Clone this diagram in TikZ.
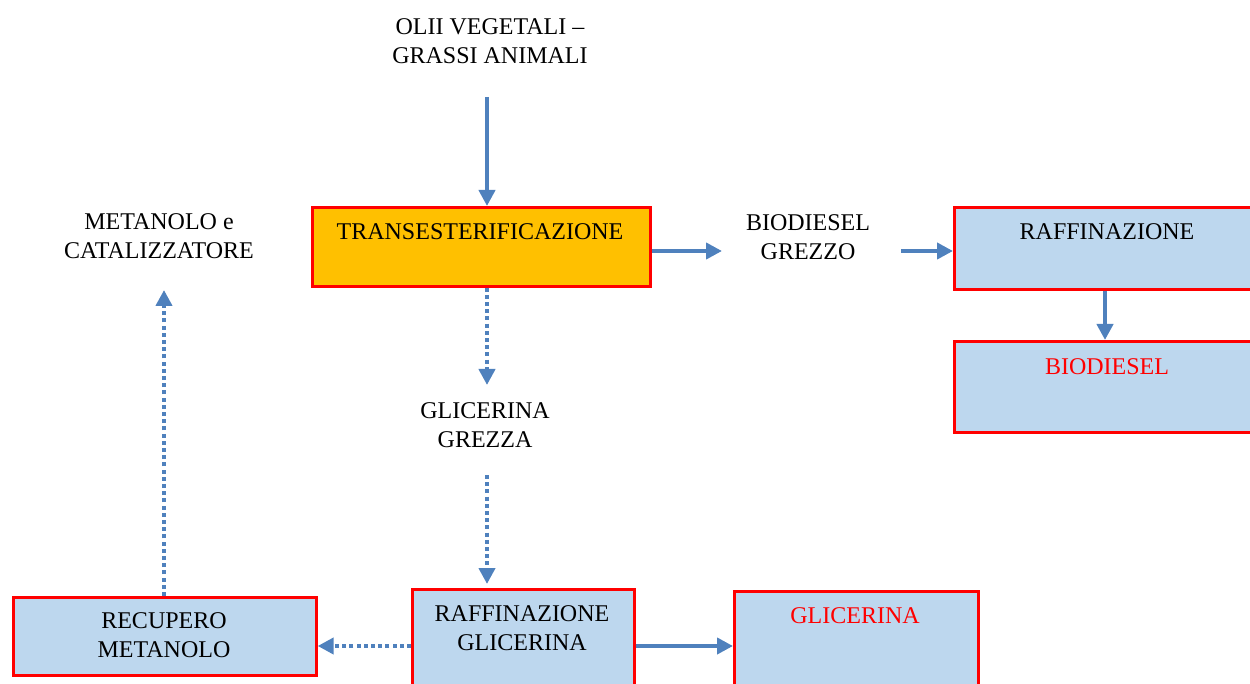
\documentclass[tikz,border=0pt]{standalone}
\usepackage{fontspec}
\setmainfont{Liberation Serif}
\usetikzlibrary{arrows.meta}

\definecolor{flowblue}{RGB}{79,129,189}
\definecolor{boxblue}{RGB}{189,215,238}
\definecolor{boxorange}{RGB}{255,192,0}
\definecolor{boxred}{RGB}{255,0,0}

\tikzset{every picture/.style={line width=0.75pt}}
\tikzset{
  box/.style={draw=boxred, line width=2pt, fill=boxblue, anchor=north west, inner sep=0pt},
  lbl/.style={anchor=north, inner sep=0pt, align=center, font=\fontsize{18}{21.75}\selectfont},
  flow/.style={draw=flowblue, line width=3pt, -{Triangle[length=12pt,width=12pt]}},
  dotflow/.style={flow, dash pattern=on 3pt off 2.4pt},
}

\begin{document}
\begin{tikzpicture}[x=0.75pt,y=0.75pt,yscale=-1,xscale=1]
\useasboundingbox (0,0) rectangle (1250,684);
\clip (0,0) rectangle (1250,684);

%Boxes
\node[box, fill=boxorange, minimum width=253.5pt, minimum height=59.25pt] (trans) at (311,206) {};
\node[box, minimum width=230.25pt, minimum height=61.5pt] (raff) at (953,206) {};
\node[box, minimum width=230.25pt, minimum height=68.25pt] (bio) at (953,340) {};
\node[box, minimum width=166.5pt, minimum height=82.5pt] (raffgl) at (411,588) {};
\node[box, minimum width=183pt, minimum height=82.5pt] (glic) at (733,590) {};
\node[box, minimum width=227.25pt, minimum height=58.5pt] (recup) at (12,596) {};

% Text Nodes
\node[lbl] (olii) at (490,18) {OLII VEGETALI --\\GRASSI ANIMALI};
\node[lbl] (metcat) at (159,213) {METANOLO e\\CATALIZZATORE};
\node[lbl] (bdg) at (808,214) {BIODIESEL\\GREZZO};
\node[lbl] (glgr) at (485,402) {GLICERINA\\GREZZA};
\node[lbl] (transtxt) at (480,223) {TRANSESTERIFICAZIONE};
\node[lbl] (rafftxt) at (1107,223) {RAFFINAZIONE};
\node[lbl, text=boxred] (biotxt) at (1107,358) {BIODIESEL};
\node[lbl] (raffgltxt) at (522,605) {RAFFINAZIONE\\GLICERINA};
\node[lbl, text=boxred] (glictxt) at (855,607) {GLICERINA};
\node[lbl] (recuptxt) at (164,612) {RECUPERO\\METANOLO};

%Arrow ends
\coordinate (c1) at (487,97);
\coordinate (c2) at (722,251);
\coordinate (c3) at (901,251);
\coordinate (c5) at (487,385);
\coordinate (c6) at (487,475);
\coordinate (c7) at (0,646);
\coordinate (c8) at (164,290);

%Connectors
\draw[flow] (c1) -- (c1 |- trans.north);
\draw[flow] (c2 -| trans.east) -- (c2);
\draw[flow] (c3) -- (c3 -| raff.west);
\draw[flow] (raff.south -| 1105,0) -- (bio.north -| 1105,0);
\draw[dotflow] (c5 |- trans.south) -- (c5);
\draw[dotflow, shorten >=3pt] (c6) -- (c6 |- raffgl.north);
\draw[dotflow] (raffgl.west |- c7) -- (recup.east |- c7);
\draw[flow] (raffgl.east |- c7) -- (glic.west |- c7);
\draw[dotflow] (recup.north -| c8) -- (c8);
\end{tikzpicture}
\end{document}
